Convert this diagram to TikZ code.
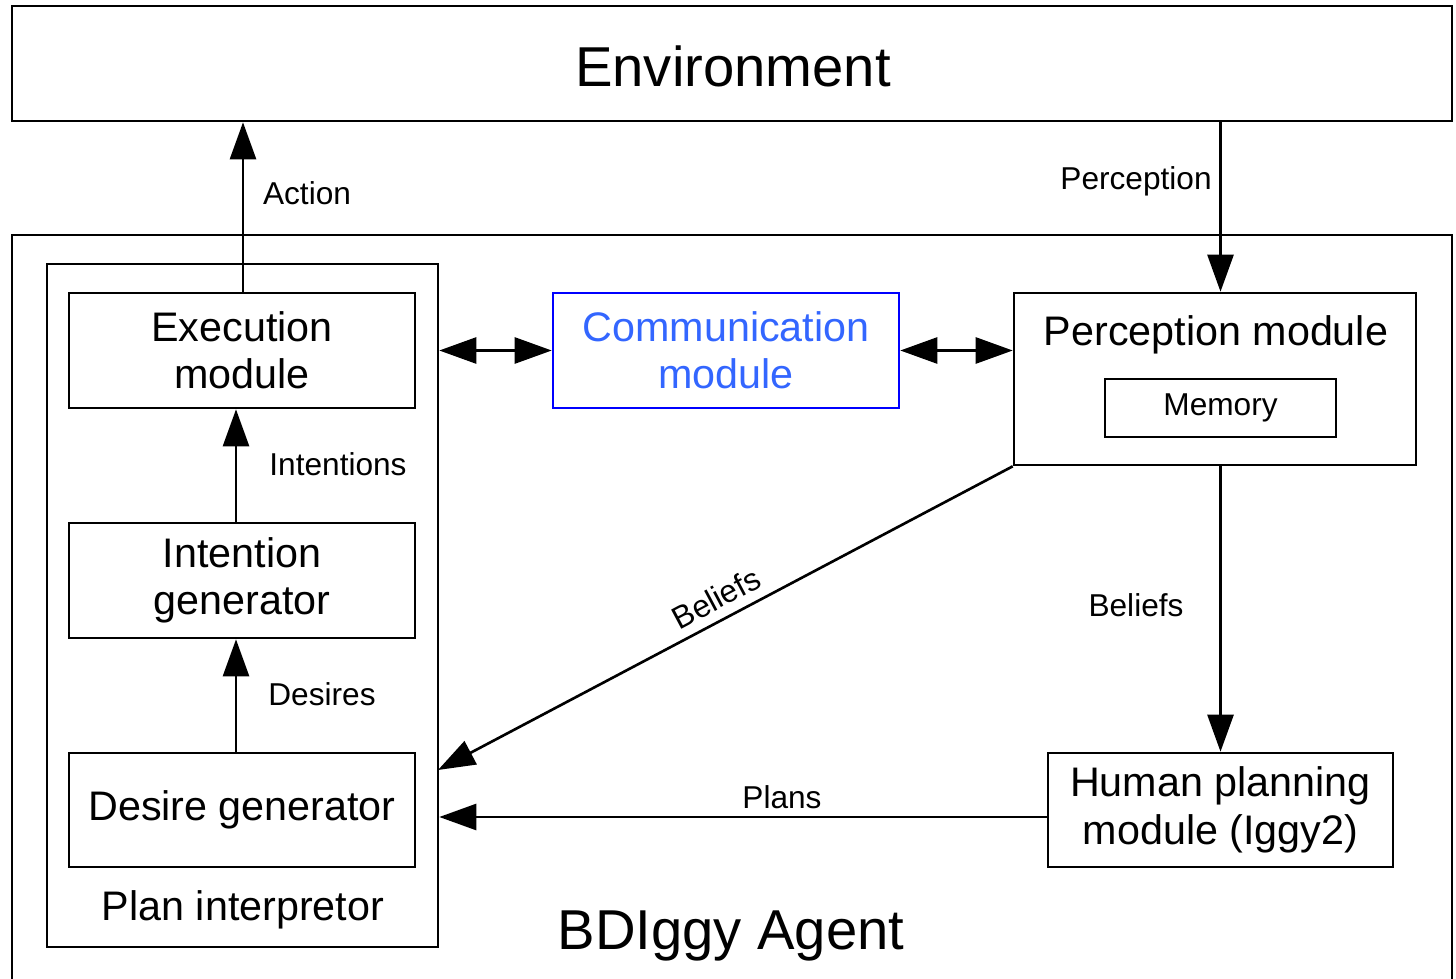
\documentclass[tikz,border=0pt]{standalone}
\usepackage{fontspec}
\setmainfont{Liberation Sans}
\usetikzlibrary{arrows.meta}
\definecolor{commtext}{RGB}{51,102,255}
\begin{document}
\begin{tikzpicture}[x=0.02cm,y=-0.02cm,
  line width=1.5pt,
  box/.style={draw,inner sep=0pt,align=center,font=\fontsize{23.5}{27}\selectfont},
  lbl/.style={font=\fontsize{18}{21}\selectfont,inner sep=0pt},
  big/.style={font=\fontsize{32}{36}\selectfont,inner sep=0pt},
  tip/.style={-{Triangle[length=0.74cm,width=0.52cm]}},
  dtip/.style={{Triangle[length=0.74cm,width=0.52cm]}-{Triangle[length=0.74cm,width=0.52cm]}}]
\useasboundingbox (0,0) rectangle (1456,979);
\begin{scope}
\clip (0,0) rectangle (1456,979);
% outer agent frame (bottom edge lies below the visible area)
\draw (12,235) rectangle (1452,1010);
\end{scope}
% boxes
\node[box,minimum width=28.8cm,minimum height=2.3cm] (env) at (732,63.5) {};
\node[big] (envt) at (733,66) {Environment};
\node[draw,minimum width=7.82cm,minimum height=13.66cm,inner sep=0pt] (pi) at (242.5,605.5) {};
\node[box,minimum width=6.92cm,minimum height=2.3cm] (exec) at (242,350.5) {Execution\\module};
\node[box,minimum width=6.92cm,minimum height=2.3cm] (intent) at (242,580.5) {Intention\\generator};
\node[box,minimum width=6.92cm,minimum height=2.28cm] (desire) at (242,810) {Desire generator};
\node[box,draw=blue,text=commtext,minimum width=6.92cm,minimum height=2.3cm] (comm) at (726,350.5) {Communication\\module};
\node[draw,minimum width=8.04cm,minimum height=3.44cm,inner sep=0pt] (perc) at (1215,379) {};
\node[box,draw=none] (perct) at (1216,335) {Perception module};
\node[draw,lbl,minimum width=4.62cm,minimum height=1.16cm] (mem) at (1220.5,408) {Memory};
\node[box,minimum width=6.9cm,minimum height=2.28cm] (human) at (1220.5,810) {Human planning\\module (Iggy2)};
\node[box,draw=none] (pit) at (243,910) {Plan interpretor};
\node[big] (agent) at (731,936) {BDIggy Agent};
% connector end points
\coordinate (actbot) at (243,293);
\coordinate (bel) at (438,770);
\coordinate (plansrc) at (1048,817);
% connectors
\draw[tip] (actbot) -- (actbot |- env.south);
\draw[tip] (env.south -| mem) -- (perc.north -| mem);
\draw[dtip] (pi.east |- comm) -- (comm.west);
\draw[dtip] (comm.east) -- (perc.west |- comm);
\draw[tip] ([xshift=-0.12cm]intent.north) -- ([xshift=-0.12cm]exec.south);
\draw[tip] ([xshift=-0.12cm]desire.north) -- ([xshift=-0.12cm]intent.south);
\draw[tip] (perc.south west) -- (bel);
\draw[tip] (perc.south -| mem) -- (human.north);
\draw[tip] (plansrc) -- (plansrc -| pi.east);
% labels
\node[lbl] (la) at (307,193) {Action};
\node[lbl] (lp) at (1136,181) {Perception};
\node[lbl] (li) at (338,464) {Intentions};
\node[lbl] (ld) at (322,694) {Desires};
\node[lbl] (lb) at (1136,605) {Beliefs};
\node[lbl] (lpl) at (782,797) {Plans};
\node[lbl,rotate=28] (lbd) at (716,598) {Beliefs};
\end{tikzpicture}
\end{document}
